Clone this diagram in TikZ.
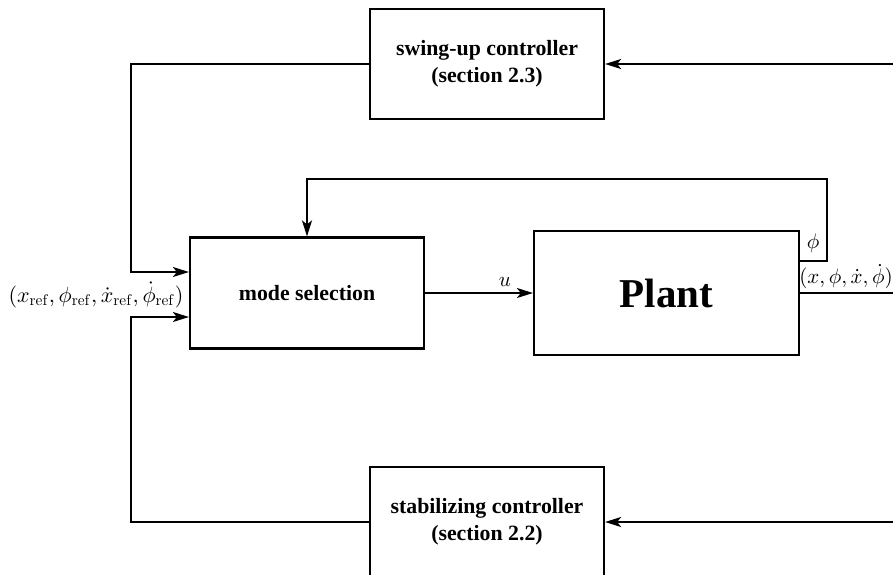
\documentclass[tikz,border=0pt]{standalone}
\usepackage[no-math]{fontspec}
\newfontfamily\tnr{Liberation Serif}
\DeclareFontShape{OML}{cmm}{m}{it}{<->cmmi10}{\skewchar\font'177}
\DeclareFontShape{OT1}{cmr}{m}{n}{<->cmr10}{}
\DeclareFontShape{OMS}{cmsy}{m}{n}{<->cmsy10}{}
\usetikzlibrary{arrows.meta}
\begin{document}
\begin{tikzpicture}[x=1pt,y=-1pt,
  blk/.style={draw, line width=2.2pt, inner sep=0pt, align=center,
    font=\tnr\bfseries\fontsize{21.8}{27}\selectfont},
  conn/.style={line width=2pt},
  arr/.style={conn, -{Stealth[length=16pt,width=10pt,inset=4pt]}},
  lbl/.style={font=\fontsize{21}{25}\selectfont, inner sep=0pt}]
\useasboundingbox (0,0) rectangle (893,574);

\node[blk, minimum width=234pt, minimum height=110pt] (swing) at (487,64)
  {swing-up controller\\(section 2.3)};
\node[blk, minimum width=234pt, minimum height=110pt] (stab) at (487,522)
  {stabilizing controller\\(section 2.2)};
\node[blk, minimum width=234pt, minimum height=111pt] (mode) at (307,293)
  {mode selection};
\node[blk, minimum width=265pt, minimum height=124pt,
  font=\tnr\bfseries\fontsize{41}{48}\selectfont] (plant) at (666.5,293) {Plant};

\coordinate (inS) at (893,64);
\coordinate (inT) at (893,522);
\coordinate (out) at (893,293);

\node[lbl, font=\fontsize{22}{26}\selectfont] (ref) at (96,295)
  {$(x_{\mathrm{ref}},\phi_{\mathrm{ref}},\dot{x}_{\mathrm{ref}},\dot{\phi}_{\mathrm{ref}})$};

% references into mode selection
\draw[arr] (swing.west) -| (131,272) -- ([yshift=21pt]mode.west);
\draw[arr] (stab.west) -| (131,317) -- ([yshift=-24pt]mode.west);

% u
\draw[arr] (mode.east) -- (plant.west);
\node[lbl] (u) at (505,282) {$u$};

% phi loop
\draw[arr] ([yshift=32pt]plant.east) -| (827,179) -| (mode.north);
\node[lbl] (phi) at (813,243) {$\phi$};

% output
\draw[conn] (plant.east) -- (out);
\node[lbl, anchor=south] (state) at (846,289) {$(x,\phi,\dot{x},\dot{\phi})$};

% state fed to controllers
\draw[arr] (inS) -- (swing.east);
\draw[arr] (inT) -- (stab.east);
\end{tikzpicture}
\end{document}
